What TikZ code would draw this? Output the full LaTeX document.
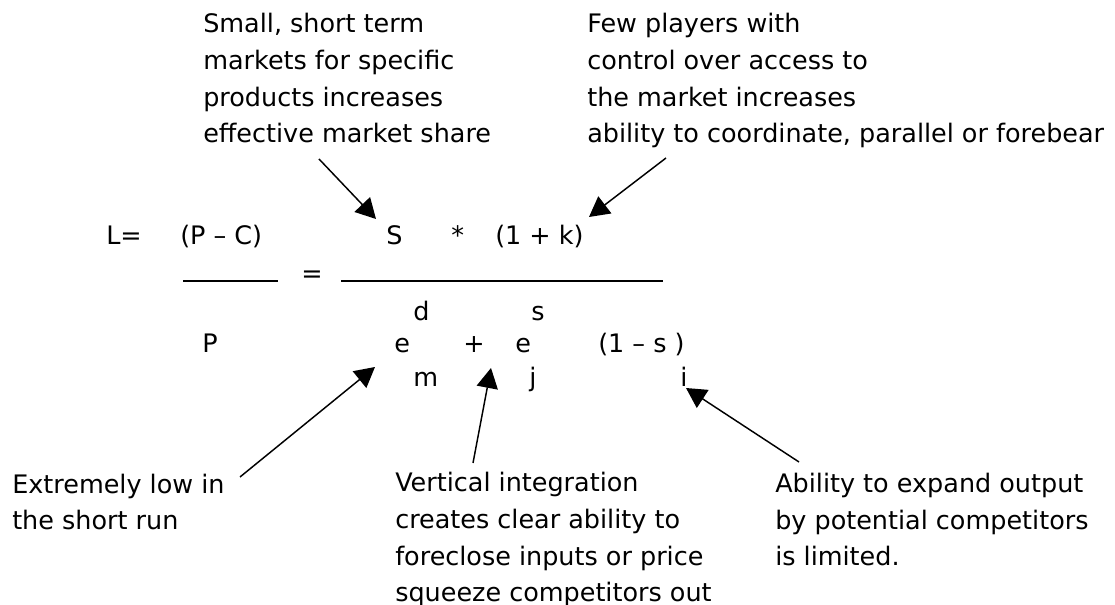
\documentclass[tikz,border=0pt]{standalone}
\usepackage{fontspec}
\setmainfont{DejaVu Sans}
\usetikzlibrary{arrows.meta}

\begin{document}
\begin{tikzpicture}[x=0.75pt,y=-0.75pt,
  font=\fontsize{19.1}{27.5}\selectfont,
  lbl/.style={anchor=base west,inner sep=0pt,align=left},
  arr/.style={-{Triangle[length=15pt,width=16pt]},line width=1.1pt}]
  \useasboundingbox (0,0) rectangle (1115,605);
  % notes above and below (placed by their last baseline)
  \node[lbl] (share)    at (203,143) {Small, short term\\markets for specific\\products increases\\effective market share};
  \node[lbl] (players)  at (587,143) {Few players with\\control over access to\\the market increases\\ability to coordinate, parallel or forebear};
  \node[lbl] (shortrun) at (12,530)  {Extremely low in\\the short run};
  \node[lbl] (vertical) at (395,602) {Vertical integration\\creates clear ability to\\foreclose inputs or price\\squeeze competitors out};
  \node[lbl] (expand)   at (775,566) {Ability to expand output\\by potential competitors\\is limited.};
  % the formula, piece by piece
  \node[lbl] (lhs)  at (106,245) {L=};
  \node[lbl] (pc)   at (180,245) {(P -- C)};
  \node[lbl] (S)    at (386,245) {S};
  \node[lbl] (star) at (451,245) {*};
  \node[lbl] (onek) at (495,245) {(1 + k)};
  \node[lbl] (eq)   at (301,283) {=};
  \node[lbl] (P)    at (202,353) {P};
  \foreach \name/\x/\y/\t in {d/413/321/d,s/531/321/s,em/394/353/e,plus/463/353/+,ej/515/353/e,
                              ones/598/353/{(1 -- s )},m/413/387/m,j/529/387/j,i/680/387/i}
    \node[lbl] (\name) at (\x,\y) {\t};
  \draw[line width=1pt] (183,281) -- (278,281);
  \draw[line width=1pt] (341,281) -- (663,281);
  % arrow ends
  \coordinate (shareA)    at (319,159);
  \coordinate (shareB)    at (376,219);
  \coordinate (playersA)  at (666,158);
  \coordinate (playersB)  at (589,217);
  \coordinate (shortrunA) at (240,477);
  \coordinate (shortrunB) at (375,367);
  \coordinate (verticalA) at (473,463);
  \coordinate (verticalB) at (491,368);
  \coordinate (expandA)   at (799,462);
  \coordinate (expandB)   at (686,388);
  \foreach \a in {share,players,shortrun,vertical,expand}
    \draw[arr] (\a A) -- (\a B);
\end{tikzpicture}
\end{document}
